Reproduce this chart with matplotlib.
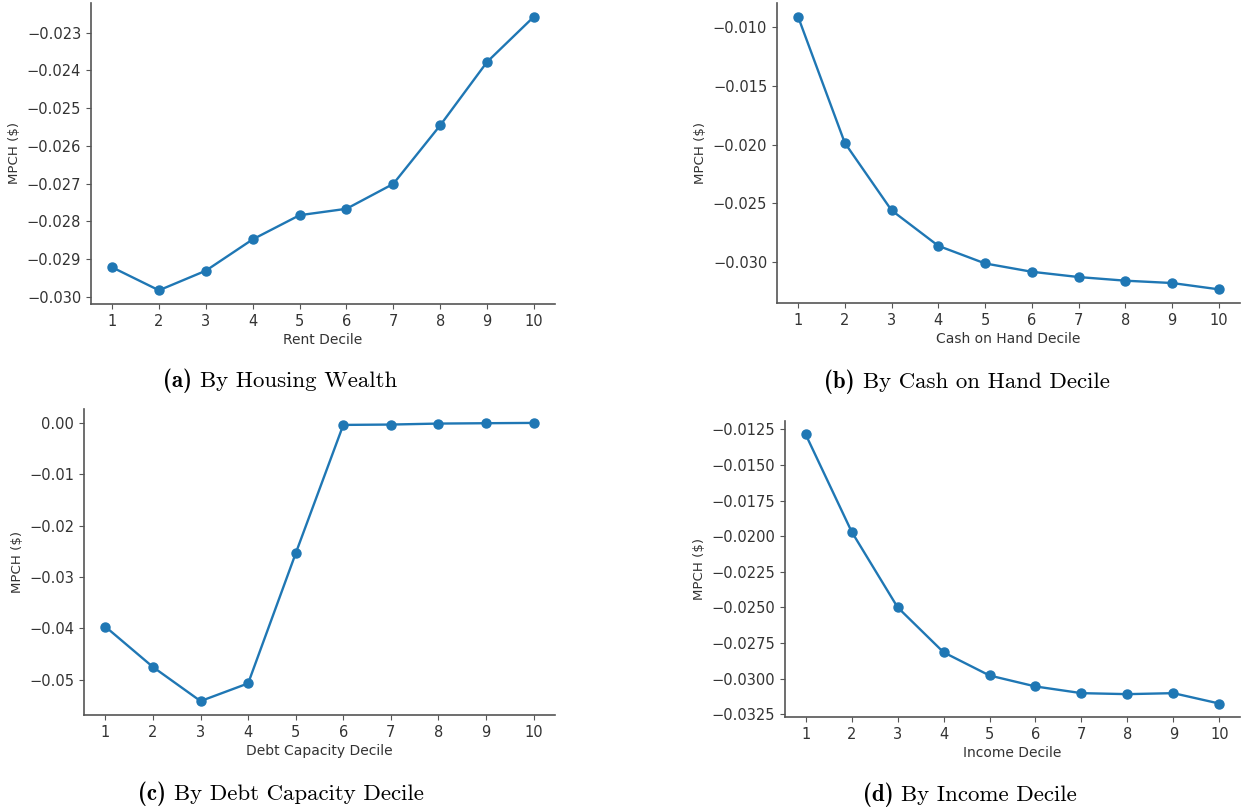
import matplotlib
matplotlib.use("Agg")
import matplotlib.pyplot as plt

W, H = 1244, 811

deciles = [1, 2, 3, 4, 5, 6, 7, 8, 9, 10]
rent_mpch = [-0.02922, -0.02983, -0.02931, -0.02848, -0.02784, -0.02767, -0.02701, -0.02546, -0.02378, -0.02258]
cash_mpch = [-0.00909, -0.01986, -0.02561, -0.02864, -0.03014, -0.03085, -0.03130, -0.03161, -0.03181, -0.03235]
debt_mpch = [-0.03968, -0.04753, -0.05416, -0.05071, -0.02539, -0.00039, -0.00032, -0.00013, -0.00006, 0.0]
income_mpch = [-0.01285, -0.01968, -0.02499, -0.02815, -0.02978, -0.03055, -0.03102, -0.03109, -0.03102, -0.03175]

xlabels = ["Rent Decile", "Cash on Hand Decile", "Debt Capacity Decile", "Income Decile"]
ylabel = "MPCH ($)"
captions = [("(a)", "By Housing Wealth"), ("(b)", "By Cash on Hand Decile"),
            ("(c)", "By Debt Capacity Decile"), ("(d)", "By Income Decile")]

fig = plt.figure(figsize=(W / 100, H / 100), dpi=100)

# axes boxes in pixels: left, top, right, bottom
boxes = [(91, 3, 555, 304), (777, 3, 1240, 303), (84, 409, 555, 715), (785, 421, 1240, 717)]
series = [rent_mpch, cash_mpch, debt_mpch, income_mpch]
cap_pos = [(280, 381), (967, 382), (281, 794), (970, 795)]

cap_texts = []
for (l, t, r, b), ys, xl, (tag, cap), (cx, cy) in zip(boxes, series, xlabels, captions, cap_pos):
    ax = fig.add_axes([l / W, 1 - b / H, (r - l) / W, (b - t) / H])
    ax.plot(deciles, ys, color="#1f77b4", marker="o", markersize=6.5, linewidth=1.7)
    ax.set_xticks(deciles)
    ax.spines["top"].set_visible(False)
    ax.spines["right"].set_visible(False)
    for s in ("left", "bottom"):
        ax.spines[s].set_color("#555555")
        ax.spines[s].set_linewidth(1.2)
    ax.tick_params(labelsize=10.5, labelcolor="#333333", color="#555555", length=3.5)
    ax.set_xlabel(xl, fontsize=10, color="#333333", labelpad=3)
    ax.set_ylabel(ylabel, fontsize=9.6, color="#333333")
    t1 = fig.text(0, 1 - cy / H, tag, ha="left", va="center", fontsize=16.5, family="cmb10")
    t2 = fig.text(0, 1 - cy / H, cap, ha="left", va="center", fontsize=16.5, family="cmr10")
    cap_texts.append((t1, t2, cx))

fig.canvas.draw()
renderer = fig.canvas.get_renderer()
gap = 7.5
for t1, t2, cx in cap_texts:
    w1 = t1.get_window_extent(renderer).width
    w2 = t2.get_window_extent(renderer).width
    total = w1 + gap + w2
    x0 = cx - total / 2
    t1.set_x(x0 / W)
    t2.set_x((x0 + w1 + gap) / W)

fig.savefig("out.png", dpi=100)
